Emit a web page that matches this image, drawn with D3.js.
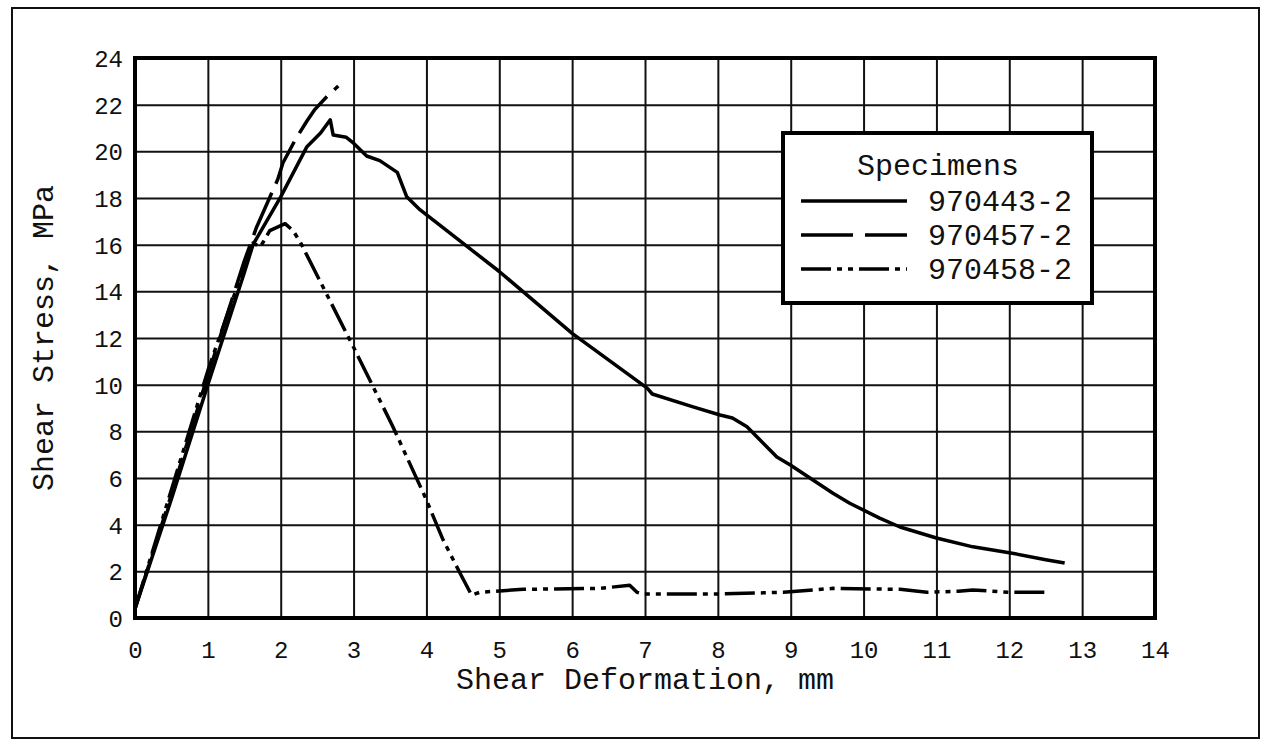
<!DOCTYPE html>
<html>
<head>
<meta charset="utf-8">
<script src="https://cdn.jsdelivr.net/npm/d3@7"></script>
<style>
	body { margin: 0; background: #fff; }
	svg { display: block; font-family: 'Liberation Mono', 'Courier New', monospace; }
</style>
</head>
<body>
<svg id="chart" width="1262" height="744"></svg>
<script>
// tick values
const xTicks = [0, 1, 2, 3, 4, 5, 6, 7, 8, 9, 10, 11, 12, 13, 14]
const yTicks = [0, 2, 4, 6, 8, 10, 12, 14, 16, 18, 20, 22, 24]

const specimens = ['970443-2', '970457-2', '970458-2']

// 970443-2 (solid)
const deform443 = [0, 0.5, 1, 1.5, 1.62, 2, 2.36, 2.55, 2.68, 2.72, 2.9, 3.0, 3.18, 3.36, 3.6, 3.73, 3.91, 5, 6, 7.03, 7.1, 7.66, 8.03, 8.2, 8.4, 8.81, 9.0, 9.58, 9.81, 10.22, 10.5, 11, 11.5, 12, 12.5, 12.76]
const stress443 = [0.4, 5.1, 10, 14.8, 16, 18.05, 20.2, 20.8, 21.35, 20.7, 20.6, 20.35, 19.8, 19.6, 19.1, 18.05, 17.5, 14.85, 12.2, 9.85, 9.6, 9.05, 8.7, 8.57, 8.2, 6.9, 6.55, 5.35, 4.92, 4.28, 3.9, 3.43, 3.05, 2.8, 2.5, 2.36]

// 970457-2 (dashed)
const deform457 = [0, 0.5, 1, 1.5, 1.67, 1.96, 2.03, 2.2, 2.36, 2.47, 2.65, 2.79]
const stress457 = [0.4, 5.3, 10.4, 15.3, 16.76, 18.8, 19.5, 20.5, 21.3, 21.8, 22.4, 22.8]

// 970458-2 (dash-dot-dot)
const deform458 = [0, 0.5, 1, 1.3, 1.62, 1.72, 1.85, 2.06, 2.17, 2.27, 3.0, 3.54, 3.98, 4.23, 4.46, 4.62, 4.73, 5.33, 6.38, 6.79, 6.89, 6.97, 7.98, 8.9, 9.58, 10.5, 10.87, 11.3, 11.5, 12.0, 12.53]
const stress458 = [0.4, 5.5, 10.6, 13.3, 16.07, 15.9, 16.6, 16.9, 16.6, 16.1, 11.6, 8.2, 5.2, 3.34, 1.93, 0.98, 1.1, 1.23, 1.27, 1.4, 1.1, 1.03, 1.03, 1.1, 1.27, 1.23, 1.1, 1.15, 1.2, 1.1, 1.1]

const seriesDash = ['none', '46,10', '30,6,5,6,5,6']

const svg = d3.select('#chart')
const margin = {left: 135, right: 107, top: 58, bottom: 126}
const width = 1262 - margin.left - margin.right
const height = 744 - margin.top - margin.bottom

// outer frame
svg.append('rect')
	.attr('x', 12).attr('y', 8)
	.attr('width', 1247).attr('height', 730)
	.style('fill', 'none')
	.style('stroke', '#111')
	.style('stroke-width', 2)

const x = d3.scaleLinear().domain([0, 14]).range([0, width])
const y = d3.scaleLinear().domain([0, 24]).range([height, 0])

const g = svg.append('g')
	.attr('transform', `translate(${margin.left},${margin.top})`)

// grid lines come from the axes' ticks
const xAxis = g.append('g')
	.attr('transform', `translate(0,${height})`)
	.call(d3.axisBottom(x).tickValues(xTicks).tickSize(-height).tickPadding(23))
const yAxis = g.append('g')
	.call(d3.axisLeft(y).tickValues(yTicks).tickSize(-width).tickPadding(12))

for (let ax of [xAxis, yAxis]) {
	ax.select('.domain').remove()
	ax.selectAll('line')
		.style('stroke', '#111')
		.style('stroke-width', 2)
	ax.selectAll('text')
		.style('font-family', "'Liberation Mono', 'Courier New', monospace")
		.style('font-size', '24px')
		.style('fill', '#111')
}
yAxis.selectAll('text').attr('dy', '0.35em')

// plot border
g.append('rect')
	.attr('width', width).attr('height', height)
	.style('fill', 'none')
	.style('stroke', '#000')
	.style('stroke-width', 4)

const line = d3.line()
	.x(d => x(d[0]))
	.y(d => y(d[1]))

let data = [
	d3.zip(deform443, stress443),
	d3.zip(deform457, stress457),
	d3.zip(deform458, stress458)
]

g.selectAll('.spec-line')
	.data(data)
	.enter()
	.append('path')
	.attr('class', 'spec-line')
	.attr('d', line)
	.style('fill', 'none')
	.style('stroke', '#000')
	.style('stroke-width', 3.5)
	.style('stroke-linejoin', 'round')
	.style('stroke-dasharray', (d, i) => seriesDash[i])

// axis titles
svg.append('text')
	.attr('x', margin.left + width / 2)
	.attr('y', 689)
	.attr('text-anchor', 'middle')
	.style('font-size', '30px')
	.style('fill', '#111')
	.text('Shear Deformation, mm')

svg.append('text')
	.attr('transform', `translate(53,${margin.top + height / 2}) rotate(-90)`)
	.attr('text-anchor', 'middle')
	.style('font-size', '30px')
	.style('fill', '#111')
	.text('Shear Stress, MPa')

// legend
const legend = svg.append('g').attr('transform', 'translate(783,133)')
legend.append('rect')
	.attr('width', 309).attr('height', 170)
	.style('fill', '#fff')
	.style('stroke', '#000')
	.style('stroke-width', 4)
legend.append('text')
	.attr('x', 155).attr('y', 42)
	.attr('text-anchor', 'middle')
	.style('font-size', '30px')
	.style('fill', '#111')
	.text('Specimens')

const rows = legend.selectAll('.legend-row')
	.data(specimens)
	.enter()
	.append('g')
	.attr('class', 'legend-row')
	.attr('transform', (d, i) => `translate(0,${68 + i * 34})`)
rows.append('line')
	.attr('x1', 18).attr('x2', 124)
	.style('stroke', '#000')
	.style('stroke-width', 3.5)
	.style('stroke-dasharray', (d, i) => i == 1 ? '52,12' : seriesDash[i])
rows.append('text')
	.attr('x', 145).attr('y', 10)
	.style('font-size', '30px')
	.style('fill', '#111')
	.text(d => d)
</script>
</body>
</html>
